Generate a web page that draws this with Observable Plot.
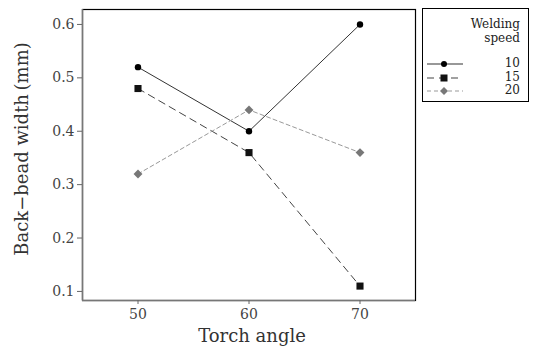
<!DOCTYPE html>
<html><head><meta charset="utf-8">
<script src="https://cdn.jsdelivr.net/npm/d3@7"></script>
<script src="https://cdn.jsdelivr.net/npm/@observablehq/plot@0.6"></script>
<style>
body{margin:0;background:#fff;}
#wrap{position:relative;width:539px;height:353px;font-family:"DejaVu Serif",serif;}
#wrap svg text{font-family:"DejaVu Serif",serif;}
#legend{position:absolute;left:422px;top:8px;width:105px;height:92px;border:1.5px solid #000;background:#fff;font-family:"DejaVu Serif",serif;font-size:12px;color:#222;}
</style>
</head><body>
<div id="wrap"></div>
<script>
const angles = [50, 60, 70];
const speeds = ["10", "15", "20"];
const width10 = [0.52, 0.40, 0.60];
const width15 = [0.48, 0.36, 0.11];
const width20 = [0.32, 0.44, 0.36];
const yTicks = [0.1, 0.2, 0.3, 0.4, 0.5, 0.6];
const xTicks = [50, 60, 70];

const seriesVals = {"10": width10, "15": width15, "20": width20};
const data = speeds.flatMap(s => angles.map((a, i) => ({speed: s, angle: a, width: seriesVals[s][i]})));
const styleOf = {
  "10": {stroke: "#333", dash: null, fill: "#000", symbol: "circle", r: 3.2},
  "15": {stroke: "#444", dash: "7,5", fill: "#111", symbol: "square", r: 4},
  "20": {stroke: "#999", dash: "4,3", fill: "#777", symbol: "diamond2", r: 4}
};
const FF = "DejaVu Serif, serif";

const marks = [];
for (const s of speeds) {
  const d = data.filter(e => e.speed === s);
  const st = styleOf[s];
  marks.push(Plot.line(d, {x: "angle", y: "width", stroke: st.stroke, strokeWidth: 1, strokeDasharray: st.dash}));
}
for (const s of speeds) {
  const d = data.filter(e => e.speed === s);
  const st = styleOf[s];
  marks.push(Plot.dot(d, {x: "angle", y: "width", fill: st.fill, stroke: "none", symbol: st.symbol, r: st.r}));
}

const chart = Plot.plot({
  width: 539, height: 353,
  marginLeft: 82, marginRight: 124, marginTop: 9, marginBottom: 53,
  style: {fontFamily: FF, fontSize: "13px", color: "#444", background: "#fff"},
  x: {domain: [45, 75]},
  y: {domain: [0.083, 0.628]},
  marks: [
    ...marks,
    Plot.frame({stroke: "#000", strokeWidth: 1.2}),
    Plot.ruleX([45], {stroke: "#777", strokeWidth: 1.5}),
    Plot.ruleY([0.083], {stroke: "#777", strokeWidth: 1.5}),
    Plot.axisX(xTicks, {tickSize: 4, tickPadding: 5, stroke: "#666", fill: "#444", fontSize: 14, fontFamily: FF, label: null}),
    Plot.axisY(yTicks, {tickSize: 5, tickPadding: 3, stroke: "#666", fill: "#444", fontSize: 14, fontFamily: FF, label: null, tickFormat: d => d.toFixed(1)}),
    Plot.text(["Back\u2212bead width\u2009(mm)"], {frameAnchor: "left", textAnchor: "middle", dx: -60, dy: -6, rotate: -90, fontSize: 18, fontFamily: FF, fill: "#333"}),
    Plot.text(["Torch angle"], {frameAnchor: "bottom", dy: 41, dx: 3, fontSize: 18, fontFamily: FF, fill: "#333"})
  ]
});
const wrap = document.getElementById("wrap");
wrap.appendChild(chart);

// legend
const leg = document.createElement("div");
leg.id = "legend";
let html = `<div style="position:absolute;right:8px;top:8px;text-align:right;line-height:14px;">Welding<br>speed</div>`;
speeds.forEach((s, i) => {
  const st = styleOf[s];
  const y = 55 + i * 13.5;
  let sym;
  if (st.symbol === "circle") sym = `<circle cx="18" cy="6" r="3" fill="${st.fill}"/>`;
  else if (st.symbol === "square") sym = `<rect x="14.5" y="2.5" width="7" height="7" fill="${st.fill}"/>`;
  else sym = `<path d="M18,2 L22,6 L18,10 L14,6Z" fill="${st.fill}"/>`;
  html += `<svg style="position:absolute;left:3px;top:${y - 6}px" width="38" height="12"><line x1="1" x2="37" y1="6" y2="6" stroke="${st.stroke}" stroke-width="1.2" ${st.dash ? `stroke-dasharray="${st.dash}"` : ""}/>${sym}</svg>`;
  html += `<div style="position:absolute;right:8px;top:${y - 8}px;">${s}</div>`;
});
leg.innerHTML = html;
wrap.appendChild(leg);
</script>
</body></html>
